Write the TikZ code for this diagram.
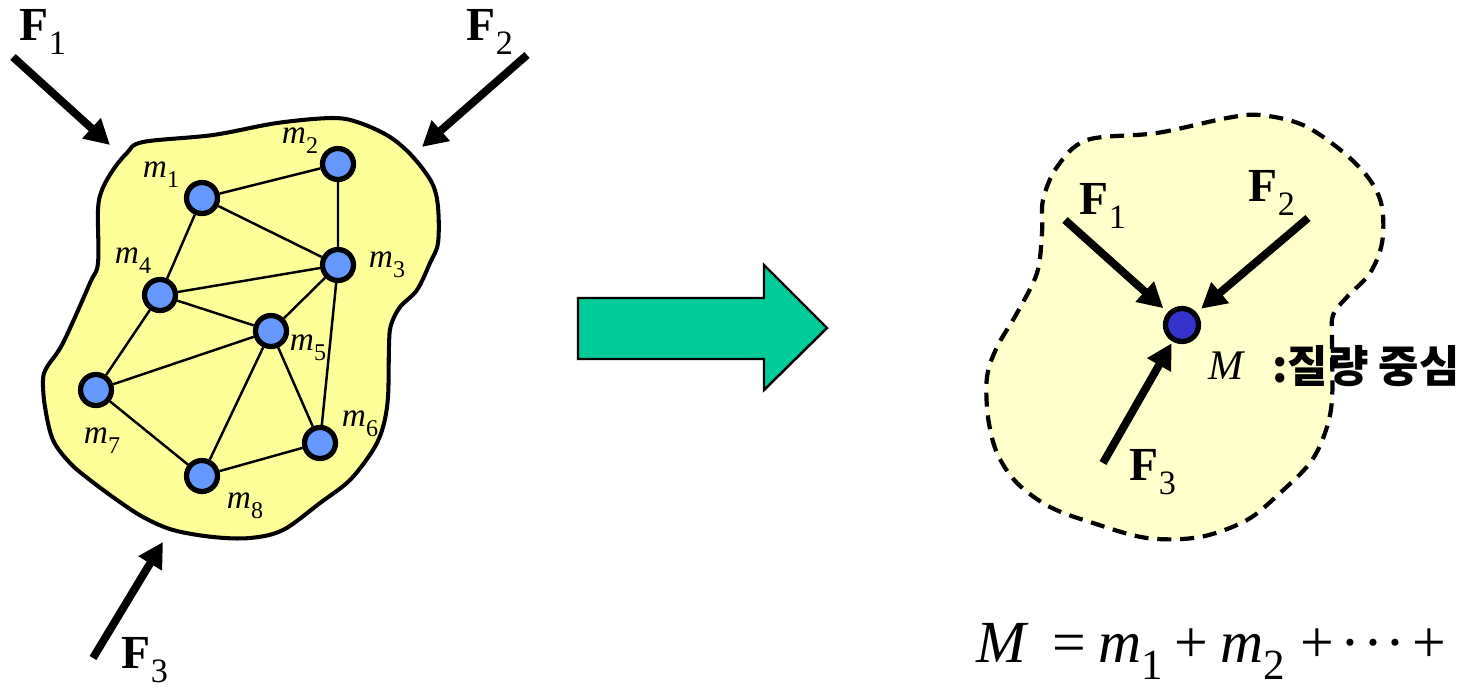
\documentclass[tikz,border=0pt]{standalone}
\usepackage{fontspec}
\setmainfont{Liberation Serif}
\newfontfamily\kofont{Noto Sans CJK KR}
\usetikzlibrary{arrows.meta}
\definecolor{blobyellow}{HTML}{FFFF99}
\definecolor{paleyellow}{HTML}{FFFFCC}
\definecolor{massblue}{HTML}{6699FF}
\definecolor{cmblue}{HTML}{3333CC}
\definecolor{bigarrow}{HTML}{00CC99}
\newcommand{\idx}[1]{\raisebox{-0.3em}{\scalebox{0.72}{#1}}}
\tikzset{
  mass/.style={circle,draw,line width=3pt,fill=massblue,minimum size=0.62cm,inner sep=0pt},
  bond/.style={line width=1.4pt},
  force/.style={line width=4.5pt,-{Triangle[length=0.5cm,width=0.52cm]}},
  mlab/.style={font=\fontsize{19}{19}\selectfont},
  flab/.style={font=\fontsize{27}{27}\selectfont,inner sep=1pt},
}
\begin{document}
\begin{tikzpicture}[x=0.02cm,y=-0.02cm]
\useasboundingbox (0,0) rectangle (1468,690);
% body with particles
\draw[line width=2.3pt,fill=blobyellow] plot[smooth cycle,tension=0.55] coordinates {
  (143,142) (213,135) (277,123) (333,118) (360,123) (390,137) (413,157) (432,183)
  (438,207) (438,243) (430,263) (417,290) (400,307) (391,325) (389,345) (388,397)
  (383,427) (373,450) (350,480) (320,503) (283,530) (250,538) (213,537) (173,530)
  (143,517) (117,500) (90,480) (70,463) (53,440) (45,407) (43,380) (47,367)
  (63,343) (90,283) (98,263) (98,210) (102,190) (113,170) (127,153)};
\node[mass] (m1) at (202,198) {};
\node[mass] (m2) at (338,164) {};
\node[mass] (m3) at (338,265) {};
\node[mass] (m4) at (160,295) {};
\node[mass] (m5) at (271,331) {};
\node[mass] (m6) at (320,443) {};
\node[mass] (m7) at (96,390) {};
\node[mass] (m8) at (202,476) {};
\draw[bond] (m1)--(m2) (m1)--(m3) (m1)--(m4) (m2)--(m3) (m4)--(m3) (m3)--(m5)
  (m3)--(m6) (m4)--(m5) (m4)--(m7) (m7)--(m5) (m5)--(m8) (m5)--(m6) (m7)--(m8) (m8)--(m6);
\node[mlab] (l1) at (161,175) {\textit{m}\idx{1}};
\node[mlab] (l2) at (300,141) {\textit{m}\idx{2}};
\node[mlab] (l3) at (387,265) {\textit{m}\idx{3}};
\node[mlab] (l4) at (133,261) {\textit{m}\idx{4}};
\node[mlab] (l5) at (308,348) {\textit{m}\idx{5}};
\node[mlab] (l6) at (360,424) {\textit{m}\idx{6}};
\node[mlab] (l7) at (102,441) {\textit{m}\idx{7}};
\node[mlab] (l8) at (245,506) {\textit{m}\idx{8}};
% external forces
\coordinate (f1s) at (13,57);   \coordinate (f1e) at (110,145);
\coordinate (f2s) at (527,55);  \coordinate (f2e) at (422,147);
\coordinate (f3s) at (93,658);  \coordinate (f3e) at (163,542);
\draw[force] (f1s)--(f1e);
\draw[force] (f2s)--(f2e);
\draw[force] (f3s)--(f3e);
\node[flab] (F1) at (43,32) {\textbf{F}\idx{1}};
\node[flab] (F2) at (490,32) {\textbf{F}\idx{2}};
\node[flab] (F3) at (145,660) {\textbf{F}\idx{3}};
% big arrow
\draw[line width=1.4pt,fill=bigarrow] (578,298)--(764,298)--(764,265)--(827,328)
  --(764,390)--(764,359)--(578,359)--cycle;
% equivalent point mass
\draw[line width=2.4pt,dash pattern=on 8pt off 5pt,fill=paleyellow] plot[smooth cycle,tension=0.55] coordinates {
  (1087,140) (1157,133) (1227,118) (1260,115) (1303,125) (1343,152) (1370,180)
  (1382,207) (1382,243) (1370,273) (1347,297) (1333,315) (1332,340) (1332,400)
  (1325,433) (1310,463) (1280,493) (1247,520) (1200,537) (1147,538) (1093,523)
  (1050,507) (1017,483) (997,453) (988,417) (987,377) (997,347) (1017,313)
  (1037,273) (1042,233) (1043,200) (1057,167)};
\node[mass,fill=cmblue,minimum size=0.66cm] (M) at (1182,325) {};
\coordinate (g1) at (1065,220);
\coordinate (g2) at (1308,218);
\coordinate (g3) at (1103,463);
\draw[force,shorten >=0.12cm] (g1)--(M);
\draw[force,shorten >=0.12cm] (g2)--(M);
\draw[force,shorten >=0.04cm] (g3)--(M);
\node[flab] (G1) at (1103,206) {\textbf{F}\idx{1}};
\node[flab] (G2) at (1272,193) {\textbf{F}\idx{2}};
\node[flab] (G3) at (1153,472) {\textbf{F}\idx{3}};
\node[font=\fontsize{24}{24}\selectfont] (Mlab) at (1227,366) {\textit{M}};
\node[anchor=west,font=\fontsize{25}{25}\selectfont\kofont\bfseries,inner sep=0pt] (cm) at (1272,366) {:질량 중심};
% total mass
\node[anchor=base west,font=\fontsize{34}{34}\selectfont,inner sep=0pt] (total) at (976,662)
  {\textit{M}\hspace{0.4em}=\hspace{0.2em}\textit{m}\idx{1}\hspace{0.2em}+\hspace{0.2em}\textit{m}\idx{2}\hspace{0.25em}+\hspace{0.12em}·\hspace{0.04em}·\hspace{0.04em}·\hspace{0.12em}+};
\end{tikzpicture}
\end{document}
